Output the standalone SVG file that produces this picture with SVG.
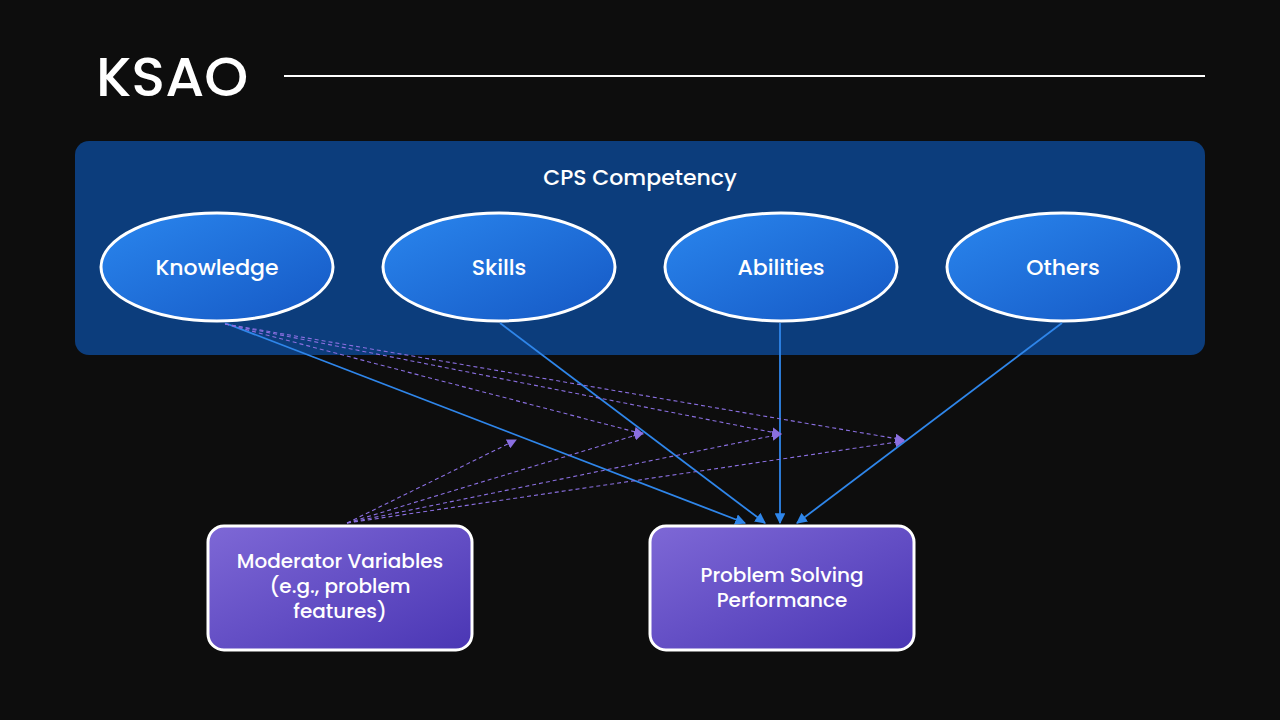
<svg xmlns="http://www.w3.org/2000/svg" width="1280" height="720" viewBox="0 0 1280 720">
<defs>
<linearGradient id="eg" x1="0" y1="0" x2="1" y2="1"><stop offset="0" stop-color="#2a86ee"/><stop offset="1" stop-color="#1558c4"/></linearGradient>
<linearGradient id="bg" x1="0" y1="0" x2="1" y2="1"><stop offset="0" stop-color="#7e68d6"/><stop offset="1" stop-color="#4a36b4"/></linearGradient>
<marker id="ab" viewBox="0 0 10 10" refX="9" refY="5" markerWidth="6" markerHeight="6" orient="auto"><path d="M0,0L10,5L0,10z" fill="#2f86ea"/></marker>
<marker id="ap" viewBox="0 0 10 10" refX="9" refY="5" markerWidth="9" markerHeight="9" orient="auto"><path d="M0,0L10,5L0,10z" fill="#8a6fe0"/></marker>
</defs>
<style>
.t{font-family:Poppins,"Open Sans","Liberation Sans",sans-serif;fill:#fff;text-anchor:middle;font-weight:500}
.e{fill:url(#eg);stroke:#fff;stroke-width:3}
.b{fill:url(#bg);stroke:#fff;stroke-width:3}
.s{stroke:#2f86ea;stroke-width:1.8;fill:none;marker-end:url(#ab)}
.d{stroke:#8a6fe0;stroke-width:1.1;stroke-dasharray:4 3;fill:none;marker-end:url(#ap)}
</style>
<rect width="1280" height="720" fill="#0d0d0d"/>
<text x="172" y="96" class="t" font-size="56" font-weight="600" fill="#eee">KSAO</text>
<line x1="284" y1="76" x2="1205" y2="76" stroke="#fff" stroke-width="2"/>
<g id="cps"><rect x="75" y="141" width="1130" height="214" rx="14" fill="#0c3d7c"/>
<text x="640" y="185" class="t" font-size="22" fill="#dfe9ff">CPS Competency</text></g>
<g id="knowledge"><ellipse cx="217" cy="267" rx="116" ry="54" class="e"/><text x="217" y="275" class="t" font-size="22">Knowledge</text></g>
<g id="skills"><ellipse cx="499" cy="267" rx="116" ry="54" class="e"/><text x="499" y="275" class="t" font-size="22">Skills</text></g>
<g id="abilities"><ellipse cx="781" cy="267" rx="116" ry="54" class="e"/><text x="781" y="275" class="t" font-size="22">Abilities</text></g>
<g id="others"><ellipse cx="1063" cy="267" rx="116" ry="54" class="e"/><text x="1063" y="275" class="t" font-size="22">Others</text></g>
<g id="connectors">
<line x1="225" y1="323" x2="745" y2="523" class="s"/>
<line x1="500" y1="323" x2="765" y2="523" class="s"/>
<line x1="780" y1="323" x2="780" y2="523" class="s"/>
<line x1="1062" y1="323" x2="797" y2="523" class="s"/>
<line x1="225" y1="324" x2="643" y2="434" class="d"/>
<line x1="225" y1="324" x2="781" y2="434" class="d"/>
<line x1="225" y1="324" x2="904" y2="440" class="d"/>
<line x1="347" y1="523" x2="516" y2="440" class="d"/>
<line x1="347" y1="523" x2="643" y2="433" class="d"/>
<line x1="347" y1="523" x2="781" y2="434" class="d"/>
<line x1="347" y1="523" x2="904" y2="441" class="d"/>
</g>
<g id="moderator"><rect x="208" y="526" width="264" height="124" rx="16" class="b"/>
<text class="t" font-size="20"><tspan x="340" y="568">Moderator Variables</tspan><tspan x="340" y="593">(e.g., problem</tspan><tspan x="340" y="618">features)</tspan></text></g>
<g id="performance"><rect x="650" y="526" width="264" height="124" rx="16" class="b"/>
<text class="t" font-size="20"><tspan x="782" y="582">Problem Solving</tspan><tspan x="782" y="607">Performance</tspan></text></g>
</svg>
